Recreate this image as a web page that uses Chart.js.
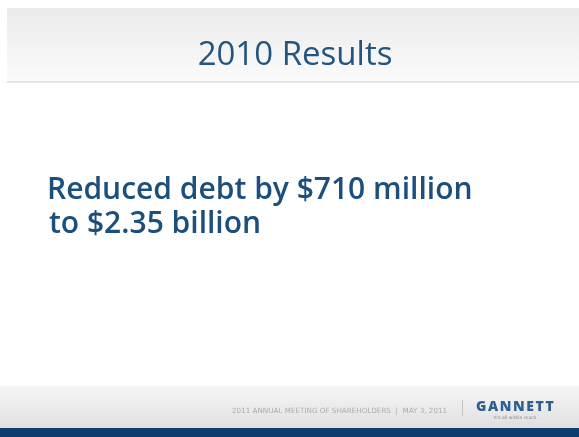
<!DOCTYPE html>
<html>
<head>
<meta charset="utf-8">
<script src="https://cdn.jsdelivr.net/npm/chart.js@4.4.0/dist/chart.umd.min.js"></script>
<style>
  html, body { margin: 0; padding: 0; background: #ffffff; }
  #wrap { width: 579px; height: 437px; }
</style>
</head>
<body>
<div id="wrap"><canvas id="slideChart"></canvas></div>
<script>
// slide text
const titleText = '2010 Results';
const bodyLines = ['Reduced debt by $710 million', 'to $2.35 billion'];
const footerText = '2011 ANNUAL MEETING OF SHAREHOLDERS  |  MAY 3, 2011';
const brandName = 'GANNETT';
const brandTagline = "It's all within reach.";

const slidePlugin = {
  id: 'slide',
  beforeDraw(chart) {
    const { ctx, width, height } = chart;
    ctx.save();
    ctx.fillStyle = '#ffffff';
    ctx.fillRect(0, 0, width, height);

    // header band
    let g = ctx.createLinearGradient(0, 8, 0, 82);
    g.addColorStop(0, '#ebebeb');
    g.addColorStop(1, '#fbfbfb');
    ctx.fillStyle = g;
    ctx.fillRect(7, 8, width - 7, 74);
    ctx.fillStyle = '#e4e4e4';
    ctx.fillRect(7, 81, width - 7, 2);

    // footer band
    g = ctx.createLinearGradient(0, 386, 0, 428);
    g.addColorStop(0, '#f6f6f6');
    g.addColorStop(1, '#e0e0e0');
    ctx.fillStyle = g;
    ctx.fillRect(0, 386, width, 42);
    ctx.fillStyle = '#0e3d6e';
    ctx.fillRect(0, 428, width, height - 428);
    ctx.restore();
  },
  afterDraw(chart) {
    const { ctx } = chart;
    ctx.save();
    ctx.textBaseline = 'alphabetic';
    ctx.textAlign = 'left';
    ctx.fillStyle = '#1c4f7c';
    ctx.font = '600 30px "Open Sans"';
    ctx.fillText(bodyLines[0], 47, 199);
    ctx.fillText(bodyLines[1], 49, 233);

    // footer
    ctx.fillStyle = '#acacac';
    ctx.font = '7.2px "DejaVu Sans"';
    ctx.fillText(footerText, 232, 413);
    ctx.fillStyle = '#c4c4c4';
    ctx.fillRect(462, 400, 1, 16);
    ctx.fillStyle = '#2f5f8f';
    ctx.font = '800 14px "Open Sans"';
    ctx.letterSpacing = '1.6px';
    ctx.fillText(brandName, 476, 411);
    ctx.letterSpacing = '0px';
    ctx.fillStyle = '#8a8a8a';
    ctx.font = '4.5px "DejaVu Sans"';
    ctx.fillText(brandTagline, 494, 419);
    ctx.restore();
  }
};

new Chart(document.getElementById('slideChart'), {
  type: 'bar',
  data: { labels: [], datasets: [] },
  options: {
    responsive: true,
    maintainAspectRatio: false,
    animation: false,
    layout: { padding: { left: 11 } },
    plugins: {
      legend: { display: false },
      tooltip: { enabled: false },
      title: {
        display: true,
        text: titleText,
        color: '#24557f',
        font: { family: 'Open Sans', size: 33, weight: 'normal' },
        padding: { top: 36, bottom: 10 },
      },
    },
    scales: {
      x: { display: false },
      y: { display: false },
    },
  },
  plugins: [slidePlugin],
});
</script>
</body>
</html>
